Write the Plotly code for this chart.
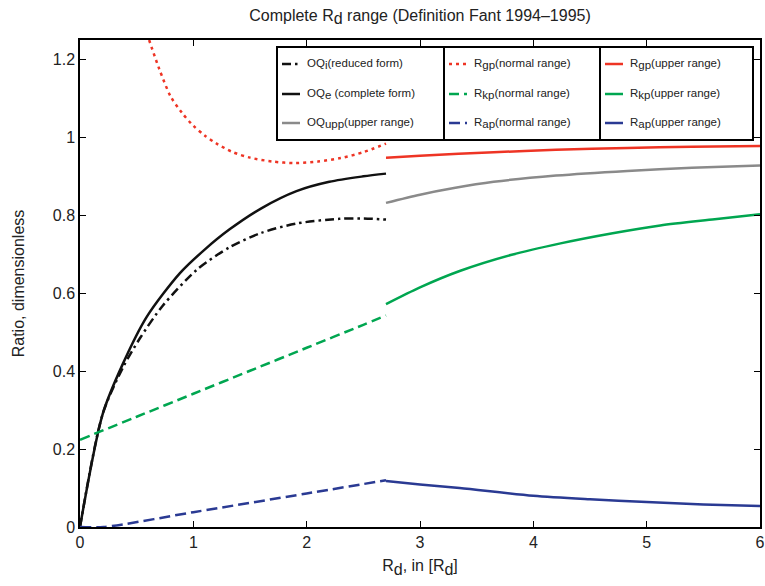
import plotly.graph_objects as go

# ---------------- data ----------------
oqe_x = [0, 0.2, 0.38, 0.59, 0.88, 1.1, 1.32, 1.6, 1.91, 2.2, 2.5, 2.7]
oqe_y = [0, 0.29, 0.42, 0.54, 0.651, 0.712, 0.764, 0.818, 0.862, 0.886, 0.9, 0.907]

oqi_x = [0, 0.2, 0.38, 0.53, 0.73, 1.03, 1.32, 1.6, 1.91, 2.29, 2.5, 2.7]
oqi_y = [0, 0.29, 0.41, 0.485, 0.568, 0.66, 0.718, 0.755, 0.779, 0.791, 0.792, 0.789]

rgp_n_x = [0.61, 0.7, 0.8, 0.9, 1.0, 1.1, 1.2, 1.35, 1.5, 1.7, 1.9, 2.1, 2.3, 2.5, 2.7]
rgp_n_y = [1.25, 1.175, 1.105, 1.063, 1.03, 1.005, 0.985, 0.962, 0.948, 0.938, 0.934, 0.938, 0.947, 0.962, 0.984]

rkp_n_x = [0, 0.5, 1.0, 1.5, 2.0, 2.5, 2.7]
rkp_n_y = [0.224, 0.283, 0.342, 0.401, 0.46, 0.519, 0.543]

rap_n_x = [0, 0.21, 1.0, 2.0, 2.7]
rap_n_y = [0, 0, 0.038, 0.086, 0.12]

up_x_rgp = [2.7, 3.0, 3.65, 4.2, 4.83, 5.4, 6.0]
rgp_u_y = [0.948, 0.953, 0.962, 0.968, 0.973, 0.976, 0.978]

up_x_oq = [2.7, 3.0, 3.3, 3.65, 4.2, 4.83, 5.4, 6.0]
oqupp_y = [0.832, 0.853, 0.870, 0.886, 0.902, 0.914, 0.922, 0.928]

up_x_rkp = [2.7, 3.0, 3.35, 3.8, 4.24, 4.7, 5.12, 5.6, 6.0]
rkp_u_y = [0.572, 0.615, 0.657, 0.698, 0.728, 0.754, 0.774, 0.79, 0.803]

up_x_rap = [2.7, 3.0, 3.35, 4.0, 4.5, 5.0, 5.5, 6.0]
rap_u_y = [0.118, 0.109, 0.1, 0.08, 0.071, 0.064, 0.058, 0.054]

x_ticks = [0, 1, 2, 3, 4, 5, 6]
y_ticks = [0, 0.2, 0.4, 0.6, 0.8, 1.0, 1.2]
y_tick_labels = ["0", "0.2", "0.4", "0.6", "0.8", "1", "1.2"]

# ---------------- styles ----------------
RED = "#ee3424"
GREEN = "#00a650"
BLUE = "#2a3a93"
GREY = "#8a8a8a"
BLACK = "#111111"
LW = 2.5
FONT = "Liberation Sans, Arial, sans-serif"
TXT = "#222222"


def sub(s, size):
    return '<sub><span style="font-size:%spx">%s</span></sub>' % (size, s)


LS = 11.5  # legend font size
series = [
    ("OQ" + sub("i", LS) + "(reduced form)", oqi_x, oqi_y, BLACK, "9px,4px,2.5px,4px"),
    ("OQ" + sub("e", LS) + " (complete form)", oqe_x, oqe_y, BLACK, "solid"),
    ("OQ" + sub("upp", LS) + "(upper range)", up_x_oq, oqupp_y, GREY, "solid"),
    ("R" + sub("gp", LS) + "(normal range)", rgp_n_x, rgp_n_y, RED, "3px,4px"),
    ("R" + sub("kp", LS) + "(normal range)", rkp_n_x, rkp_n_y, GREEN, "10px,5px"),
    ("R" + sub("ap", LS) + "(normal range)", rap_n_x, rap_n_y, BLUE, "11px,5px"),
    ("R" + sub("gp", LS) + "(upper range)", up_x_rgp, rgp_u_y, RED, "solid"),
    ("R" + sub("kp", LS) + "(upper range)", up_x_rkp, rkp_u_y, GREEN, "solid"),
    ("R" + sub("ap", LS) + "(upper range)", up_x_rap, rap_u_y, BLUE, "solid"),
]

fig = go.Figure()
for name, xs, ys, col, dash in series:
    fig.add_trace(go.Scatter(
        x=xs, y=ys, mode="lines", name=name, showlegend=False,
        line=dict(color=col, width=LW, dash=dash, shape="spline", smoothing=0.8),
        cliponaxis=True,
    ))

# ---------------- layout ----------------
W, H = 765, 586
L, R, T, B = 80, 5, 40, 59
PW, PH = W - L - R, H - T - B


def px_x(px):
    return (px - L) / PW


def px_y(py):
    return (H - B - py) / PH


# manual three-box legend (positions in pixels)
boxes = [(277, 444), (444, 600), (600, 753)]
box_top, box_bot = 47, 140
rows = [64, 94, 123]
shapes = []
annotations = []
for bi, (bx0, bx1) in enumerate(boxes):
    shapes.append(dict(type="rect", xref="paper", yref="paper",
                       x0=px_x(bx0), x1=px_x(bx1), y0=px_y(box_bot), y1=px_y(box_top),
                       line=dict(color="black", width=2), fillcolor="white", layer="above"))
    for ri in range(3):
        name, xs, ys, col, dash = series[bi * 3 + ri]
        sy = px_y(rows[ri])
        shapes.append(dict(type="line", xref="paper", yref="paper",
                           x0=px_x(bx0 + 5), x1=px_x(bx0 + 23), y0=sy, y1=sy,
                           line=dict(color=col, width=LW, dash=dash), layer="above"))
        annotations.append(dict(text=name, xref="paper", yref="paper",
                                x=px_x(bx0 + 28), y=sy, xanchor="left", yanchor="middle",
                                showarrow=False, font=dict(family=FONT, size=LS, color=TXT)))

FS = 16
fig.update_layout(
    width=W, height=H,
    margin=dict(l=L, r=R, t=T, b=B, autoexpand=False),
    paper_bgcolor="white", plot_bgcolor="white",
    title=dict(text="Complete R" + sub("d", FS) + " range (Definition Fant 1994\u20131995)",
               x=0.5, xref="paper", xanchor="center", y=1 - 15 / H, yref="container",
               yanchor="middle", font=dict(family=FONT, size=FS, color=TXT)),
    shapes=shapes, annotations=annotations,
    font=dict(family=FONT, color=TXT),
)
fig.update_xaxes(
    range=[0, 6], tickvals=x_ticks, ticks="inside", ticklen=6, tickwidth=1.2,
    tickcolor="black", showline=True, linecolor="black", linewidth=1.5, mirror="ticks",
    showgrid=False, zeroline=False, automargin=False,
    tickfont=dict(family=FONT, size=FS, color=TXT),
    title=dict(text="R" + sub("d", FS) + ", in [R" + sub("d", FS) + "]", standoff=10,
               font=dict(family=FONT, size=FS, color=TXT)),
)
fig.update_yaxes(
    range=[0, 1.25], tickvals=y_ticks, ticktext=y_tick_labels, ticks="inside", ticklen=6,
    tickwidth=1.2, tickcolor="black", showline=True, linecolor="black", linewidth=1.5,
    mirror="ticks", showgrid=False, zeroline=False, automargin=False,
    tickfont=dict(family=FONT, size=FS, color=TXT),
    title=dict(text="Ratio, dimensionless", standoff=24,
               font=dict(family=FONT, size=FS, color=TXT)),
)

fig.write_html("out.html", config={"displayModeBar": False},
               post_script="document.body.style.margin='0';")
